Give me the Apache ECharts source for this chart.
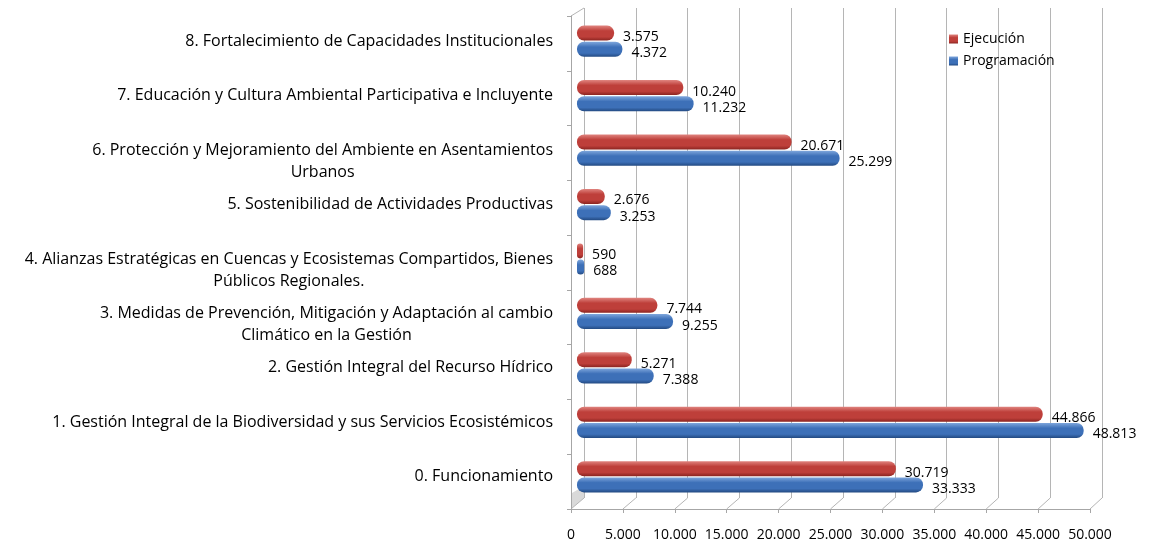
<!DOCTYPE html>
<html>
<head>
<meta charset="utf-8">
<title>Ejecución vs Programación</title>
<script src="https://cdn.jsdelivr.net/npm/echarts@6/dist/echarts.min.js"></script>
<style>
  html, body { margin: 0; padding: 0; background: #fff; }
  #chart { width: 1150px; height: 546px; }
</style>
</head>
<body>
<div id="chart"></div>
<script>
// categorias de abajo hacia arriba
var categorias = [
    '0. Funcionamiento',
    '1. Gestión Integral de la Biodiversidad y sus Servicios Ecosistémicos',
    '2. Gestión Integral del Recurso Hídrico',
    '3. Medidas de Prevención, Mitigación y Adaptación al cambio\nClimático en la Gestión',
    '4. Alianzas Estratégicas en Cuencas y Ecosistemas Compartidos, Bienes\nPúblicos Regionales.',
    '5. Sostenibilidad de Actividades Productivas',
    '6. Protección y Mejoramiento del Ambiente en Asentamientos\nUrbanos',
    '7. Educación y Cultura Ambiental Participativa e Incluyente',
    '8. Fortalecimiento de Capacidades Institucionales'
];
var ejecucion    = [30719, 44866, 5271, 7744, 590, 2676, 20671, 10240, 3575];
var programacion = [33333, 48813, 7388, 9255, 688, 3253, 25299, 11232, 4372];
var ejeMax = 50000;
var ejeIntervalo = 5000;

var FONT = 'Open Sans';
var GRIS = '#a6a6a6';

function miles(v) {
    return String(v).replace(/\B(?=(\d{3})+(?!\d))/g, '.');
}

function cilindro(claro, medio, oscuro) {
    return new echarts.graphic.LinearGradient(0, 0, 0, 1, [
        { offset: 0, color: claro },
        { offset: 0.35, color: medio },
        { offset: 0.75, color: medio },
        { offset: 1, color: oscuro }
    ]);
}
var rojo = cilindro('#e0847f', '#be3f3a', '#8a2420');
var azul = cilindro('#7ea6dc', '#3d70b8', '#234a82');

var etiquetaValor = {
    show: true,
    position: 'right',
    distance: 9,
    offset: [0, 4],
    color: '#000',
    fontFamily: FONT,
    fontSize: 14,
    formatter: function (p) { return miles(p.value); }
};

// grids: pared del fondo, plano frontal, barras (a media profundidad)
var H = 546;
var fondo  = { left: 584, right: 48, top: 8,  bottom: 48 };
var frente = { left: 571, right: 60, top: 16, bottom: 37 };
var barras = { left: 577, right: 54, top: 14, bottom: 42 };

var myChart = echarts.init(document.getElementById('chart'));

var option = {
    backgroundColor: '#fff',
    animation: false,
    legend: {
        orient: 'vertical',
        left: 944,
        top: 27,
        icon: 'rect',
        itemWidth: 9,
        itemHeight: 9,
        itemGap: 8,
        data: ['Ejecución', 'Programación'],
        textStyle: { fontFamily: FONT, fontSize: 14, color: '#000' }
    },
    grid: [fondo, frente, barras],
    xAxis: [{
        gridIndex: 0,
        type: 'value',
        min: 0,
        max: ejeMax,
        interval: ejeIntervalo,
        axisLine: { show: false },
        axisTick: { show: false },
        axisLabel: { show: false },
        splitLine: { lineStyle: { color: '#b5b5b5', width: 1 } }
    }, {
        gridIndex: 1,
        type: 'value',
        min: 0,
        max: ejeMax,
        interval: ejeIntervalo,
        axisLine: { show: true, lineStyle: { color: GRIS } },
        axisTick: { show: true, length: 4, lineStyle: { color: GRIS } },
        axisLabel: {
            margin: 19,
            color: '#000',
            fontFamily: FONT,
            fontSize: 14,
            formatter: function (v) { return miles(v); }
        },
        splitLine: { show: false }
    }, {
        gridIndex: 2,
        type: 'value',
        min: 0,
        max: ejeMax,
        show: false
    }],
    yAxis: [{
        gridIndex: 0,
        type: 'category',
        data: categorias,
        show: false
    }, {
        gridIndex: 1,
        type: 'category',
        data: categorias,
        axisLine: { show: true, lineStyle: { color: GRIS } },
        axisTick: { show: true, length: 4, lineStyle: { color: GRIS } },
        axisLabel: { show: false }
    }, {
        gridIndex: 2,
        type: 'category',
        data: categorias,
        axisLine: { show: false },
        axisTick: { show: false },
        axisLabel: {
            margin: 24,
            color: '#000',
            fontFamily: FONT,
            fontSize: 16,
            lineHeight: 22,
            formatter: function (v) {
                var lineas = v.split('\n');
                var txt = lineas.map(function (l) { return '{c|' + l + '}'; }).join('\n');
                // en Excel la primera linea queda centrada en la categoria
                if (lineas.length > 1) txt = '{c| }\n' + txt;
                return txt;
            },
            rich: {
                c: { align: 'center', color: '#000', fontFamily: FONT, fontSize: 16, lineHeight: 22 }
            }
        }
    }],
    series: [{
        name: 'Ejecución',
        type: 'bar',
        xAxisIndex: 2,
        yAxisIndex: 2,
        barWidth: 15,
        barGap: '8%',
        itemStyle: { color: rojo, borderRadius: 7 },
        label: etiquetaValor,
        data: ejecucion
    }, {
        name: 'Programación',
        type: 'bar',
        xAxisIndex: 2,
        yAxisIndex: 2,
        barWidth: 15,
        barGap: '8%',
        itemStyle: { color: azul, borderRadius: 7 },
        label: etiquetaValor,
        data: programacion
    }]
};

myChart.setOption(option);

// lineas oblicuas del piso y de la esquina superior (efecto 3D de Excel)
var oblicuas = [];
var yFrente = H - frente.bottom, yFondo = H - fondo.bottom;
for (var v = 0; v <= ejeMax; v += ejeIntervalo) {
    var xf = myChart.convertToPixel({ xAxisIndex: 1 }, v);
    var xb = myChart.convertToPixel({ xAxisIndex: 0 }, v);
    oblicuas.push({
        type: 'line', silent: true,
        shape: { x1: xf, y1: yFrente, x2: xb, y2: yFondo },
        style: { stroke: '#b5b5b5', lineWidth: 1 }
    });
}
oblicuas.push({
    type: 'line', silent: true,
    shape: { x1: frente.left, y1: frente.top, x2: fondo.left, y2: fondo.top },
    style: { stroke: '#b5b5b5', lineWidth: 1 }
});
// pared lateral (sombra gris abajo a la izquierda)
oblicuas.push({
    type: 'polygon', silent: true, z: -1,
    shape: { points: [[frente.left + 1, yFrente - 1], [fondo.left, yFondo], [fondo.left, yFondo - 12], [frente.left + 1, yFrente - 16]] },
    style: { fill: '#d9d9d9' }
});
myChart.setOption({ graphic: oblicuas });
</script>
</body>
</html>
